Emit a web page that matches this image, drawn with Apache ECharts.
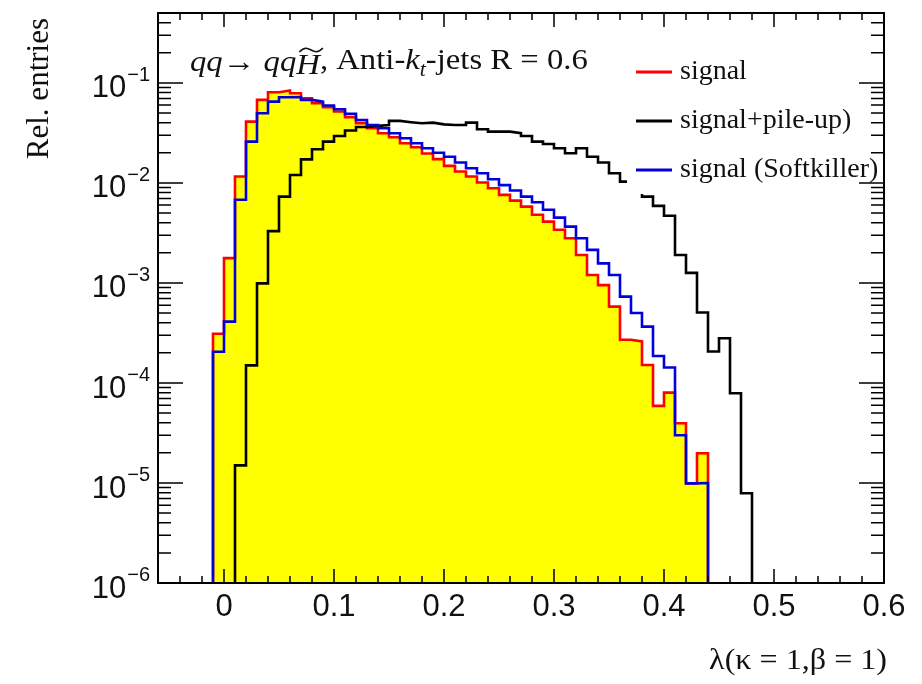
<!DOCTYPE html>
<html>
<head>
<meta charset="utf-8">
<script src="https://cdn.jsdelivr.net/npm/echarts@6/dist/echarts.min.js"></script>
<style>
  html, body { margin: 0; padding: 0; background: #fff; }
  #chart { width: 922px; height: 684px; }
</style>
</head>
<body>
<div id="chart"></div>
<script>
// Histogram binning: fixed-width bins, each array starts at its own lower edge
const binWidth = 0.01;
const baseline = 1e-6;

// signal (red outline, yellow fill)
const signalStart = -0.01;
const signalValues = [
  3.1e-4, 1.77e-3, 1.16e-2, 0.041, 0.0676, 0.0807, 0.0838, 0.0788, 0.0703, 0.0627,
  0.0571, 0.0517, 0.0454, 0.0396, 0.0352, 0.0314, 0.0286, 0.0249, 0.0227, 0.0197,
  0.0173, 0.0148, 0.0130, 0.0116, 0.0101, 8.85e-3, 7.6e-3, 6.65e-3, 5.8e-3, 4.8e-3,
  4.1e-3, 3.4e-3, 2.8e-3, 1.9e-3, 1.2e-3, 9.5e-4, 5.8e-4, 2.7e-4, 2.6e-4, 1.51e-4,
  5.9e-5, 8.0e-5, 3.95e-5, 9.9e-6, 1.98e-5
];

// signal + pile-up (black)
const pileupStart = 0.01;
const pileupValues = [
  1.5e-5, 1.5e-4, 9.9e-4, 3.3e-3, 7.3e-3, 0.012, 0.0172, 0.0217, 0.0259, 0.0295,
  0.0334, 0.0362, 0.0372, 0.0380, 0.0417, 0.0405, 0.0395, 0.0401, 0.0385, 0.0380,
  0.0380, 0.0401, 0.0344, 0.0326, 0.0326, 0.0314, 0.0295, 0.0259, 0.0245, 0.0222,
  0.0198, 0.0222, 0.0183, 0.0160, 0.0125, 0.0103, 8.7e-3, 7.3e-3, 5.9e-3, 4.7e-3,
  1.9e-3, 1.26e-3, 5.07e-4, 2.06e-4, 2.8e-4, 7.9e-5, 7.9e-6
];

// signal after SoftKiller (blue)
const softkillerStart = -0.01;
const softkillerValues = [
  2.05e-4, 4.1e-4, 6.8e-3, 0.0259, 0.0497, 0.065, 0.0719, 0.072, 0.0676, 0.065,
  0.0594, 0.0545, 0.049, 0.0426, 0.038, 0.0352, 0.0314, 0.028, 0.0249, 0.0222,
  0.020, 0.0183, 0.016, 0.014, 0.0125, 0.0109, 9.5e-3, 8.4e-3, 7.3e-3, 6.4e-3,
  5.4e-3, 4.5e-3, 3.66e-3, 2.8e-3, 2.14e-3, 1.57e-3, 1.2e-3, 7.3e-4, 5.0e-4, 3.66e-4,
  1.86e-4, 1.43e-4, 3.0e-5, 9.9e-6, 1.0e-5
];

const seriesNames = ['signal', 'signal+pile-up)', 'signal (Softkiller)'];
const seriesColors = ['#ff0000', '#000000', '#0000dd'];

// Axis ranges and tick labels
const xMin = -0.06, xMax = 0.6;
const yMin = 1e-6, yMax = 0.5;
const xTickValues = [0, 0.1, 0.2, 0.3, 0.4, 0.5, 0.6];
const xTickLabels = ['0', '0.1', '0.2', '0.3', '0.4', '0.5', '0.6'];
const yTickExponents = [-6, -5, -4, -3, -2, -1];

const SANS = '"Liberation Sans", Arial, Helvetica, sans-serif';
const SERIF = '"Liberation Serif", "Times New Roman", serif';

// plot frame geometry
const gridBox = { left: 158, top: 13, width: 726, height: 570 };

const r4 = v => Math.round(v * 1e4) / 1e4;

// tick marks: [position, length in px]; majors every 0.1 / decade, minors every 0.02 / 2..9
const xTickMarks = [];
for (let k = -2; k <= 29; k++) {
  const v = r4(k * 0.02);
  const major = Math.abs(v * 10 - Math.round(v * 10)) < 1e-6;
  xTickMarks.push([v, major ? 14 : 7]);
}
const yMajorValues = yTickExponents.map(e => Number('1e' + e));
const yTickMarks = [];
yTickExponents.forEach(e => {
  for (let m = 1; m <= 9; m++) {
    const v = Number(m + 'e' + e);
    if (v < yMax) yTickMarks.push([v, m === 1 ? 25 : 13]);
  }
});

// tick segments expressed in axis units, broken apart by empty points
const pxPerDecade = gridBox.height / Math.log10(yMax / yMin);
const xUnitsPerPx = (xMax - xMin) / gridBox.width;
const xTickSegments = [];
xTickMarks.forEach(([v, len]) => {
  const f = Math.pow(10, len / pxPerDecade);
  xTickSegments.push([v, yMin], [v, yMin * f], [v, null]);
  xTickSegments.push([v, yMax], [v, yMax / f], [v, null]);
});
const yTickSegments = [];
yTickMarks.forEach(([v, len]) => {
  const d = len * xUnitsPerPx;
  yTickSegments.push([xMin, v], [xMin + d, v], [null, v]);
  yTickSegments.push([xMax, v], [xMax - d, v], [null, v]);
});

// step outline of a histogram: rise at the first edge, drop at the last edge
function histPoints(start, values) {
  const pts = [[r4(start), baseline]];
  values.forEach((v, i) => pts.push([r4(start + i * binWidth), v]));
  pts.push([r4(start + values.length * binWidth), baseline]);
  return pts;
}

function xLabel(v) {
  const i = Math.round(v * 10);
  return xTickLabels[i] !== undefined ? xTickLabels[i] : '';
}
function yLabel(v) {
  const e = Math.round(Math.log10(v));
  return '{b|10}{s|\u2212' + (-e) + '}';
}

function xAxisDef(position, showLabels) {
  return {
    type: 'value', position, min: xMin, max: xMax, z: 10,
    axisLine: { show: true, onZero: false, lineStyle: { color: '#000', width: 2 } },
    axisTick: { show: false },
    axisLabel: showLabels ? {
      show: true, customValues: xTickValues, formatter: xLabel, margin: 9,
      fontFamily: SANS, fontSize: 31, color: '#111'
    } : { show: false },
    splitLine: { show: false }
  };
}
function yAxisDef(position, showLabels) {
  return {
    type: 'log', logBase: 10, position, min: yMin, max: yMax, z: 10,
    axisLine: { show: true, onZero: false, lineStyle: { color: '#000', width: 2 } },
    axisTick: { show: false },
    axisLabel: showLabels ? {
      show: true, customValues: yMajorValues, formatter: yLabel, margin: 8,
      rich: {
        b: { fontFamily: SANS, fontSize: 31, color: '#111', padding: [12, 0, 0, 0] },
        s: { fontFamily: SANS, fontSize: 20, color: '#111', padding: [4, 0, 0, 1], verticalAlign: 'top' }
      }
    } : { show: false },
    splitLine: { show: false }
  };
}

const histograms = [
  { start: signalStart, values: signalValues, fill: '#ffff00' },
  { start: pileupStart, values: pileupValues },
  { start: softkillerStart, values: softkillerValues }
];

const histSeries = histograms.map((h, i) => {
  const s = {
    name: seriesNames[i], type: 'line', step: 'end',
    data: histPoints(h.start, h.values),
    symbol: 'none', silent: true, z: 2 + i, clip: true,
    itemStyle: { color: seriesColors[i] },
    lineStyle: { color: seriesColors[i], width: 2.6, join: 'miter' }
  };
  if (h.fill) s.areaStyle = { color: h.fill, opacity: 1, origin: 'start' };
  return s;
});

const tickSeries = [xTickSegments, yTickSegments].map((segs, i) => ({
  name: i === 0 ? 'x ticks' : 'y ticks', type: 'line', data: segs,
  symbol: 'none', silent: true, z: 9, clip: false, connectNulls: false,
  itemStyle: { color: '#000' },
  lineStyle: { color: '#000', width: 1.5, cap: 'butt' }
}));

// Process label above the curves, laid out piece by piece
const graphics = [];
const measureCtx = document.createElement('canvas').getContext('2d');
function textWidth(text, size, italic) {
  measureCtx.font = (italic ? 'italic ' : '') + size + 'px ' + SERIF;
  return measureCtx.measureText(text).width;
}
const headerStretch = 1.09;
const headerPieces = [
  { t: 'qq', italic: true, size: 30, dy: 2 },
  { t: '\u2192 ', italic: false, size: 30, dy: 2 },
  { t: 'qq', italic: true, size: 30, dy: 2 },
  { t: 'H', italic: true, size: 30, dy: 5, tilde: true },
  { t: ', Anti-', italic: false, size: 30, dy: 0 },
  { t: 'k', italic: true, size: 30, dy: 0 },
  { t: 't', italic: true, size: 20, dy: 10 },
  { t: '-jets R = 0.6', italic: false, size: 30, dy: 0 }
];
const headerX = 190, headerY = 61;
let cursor = headerX;
headerPieces.forEach(p => {
  graphics.push({
    type: 'text', x: cursor, y: headerY + p.dy, scaleX: headerStretch, silent: true,
    style: {
      text: p.t, fontFamily: SERIF, fontSize: p.size,
      fontStyle: p.italic ? 'italic' : 'normal', fill: '#111',
      align: 'left', verticalAlign: 'middle'
    }
  });
  const w = textWidth(p.t, p.size, p.italic) * headerStretch;
  if (p.tilde) {
    const x0 = cursor + 3, x1 = cursor + w + 3, yT = headerY - 11;
    graphics.push({
      type: 'bezierCurve', silent: true,
      shape: { x1: x0, y1: yT + 2, x2: x1, y2: yT - 2,
               cpx1: x0 + (x1 - x0) * 0.45, cpy1: yT - 9,
               cpx2: x0 + (x1 - x0) * 0.55, cpy2: yT + 9 },
      style: { stroke: '#111', lineWidth: 1.6, fill: null }
    });
  }
  cursor += w;
});

// axis titles
graphics.push({
  type: 'text', x: 40, y: 18, rotation: Math.PI / 2, silent: true,
  style: { text: 'Rel. entries', fontFamily: SERIF, fontSize: 31, fill: '#111',
           align: 'right', verticalAlign: 'middle' }
});
graphics.push({
  type: 'text', x: 887, y: 661, scaleX: 1.07, silent: true,
  style: { text: '\u03bb(\u03ba = 1,\u03b2 = 1)', fontFamily: SERIF, fontSize: 30, fill: '#111',
           align: 'right', verticalAlign: 'middle' }
});

const option = {
  animation: false,
  backgroundColor: '#fff',
  grid: Object.assign({ containLabel: false, outerBoundsMode: 'none' }, gridBox),
  xAxis: [xAxisDef('bottom', true), xAxisDef('top', false)],
  yAxis: [yAxisDef('left', true), yAxisDef('right', false)],
  legend: {
    orient: 'vertical', left: 627, top: 48,
    padding: [10, 6, 10, 9], itemGap: 21, itemWidth: 36, itemHeight: 3, icon: 'rect',
    backgroundColor: '#fff', selectedMode: false, z: 8,
    textStyle: { fontFamily: SERIF, fontSize: 28, color: '#111', padding: [0, 0, 0, 3] },
    data: seriesNames.map((n, i) => ({ name: n, itemStyle: { color: seriesColors[i] } }))
  },
  graphic: graphics,
  series: histSeries.concat(tickSeries)
};

const chart = echarts.init(document.getElementById('chart'), null, { renderer: 'canvas' });
chart.setOption(option);
</script>
</body>
</html>
